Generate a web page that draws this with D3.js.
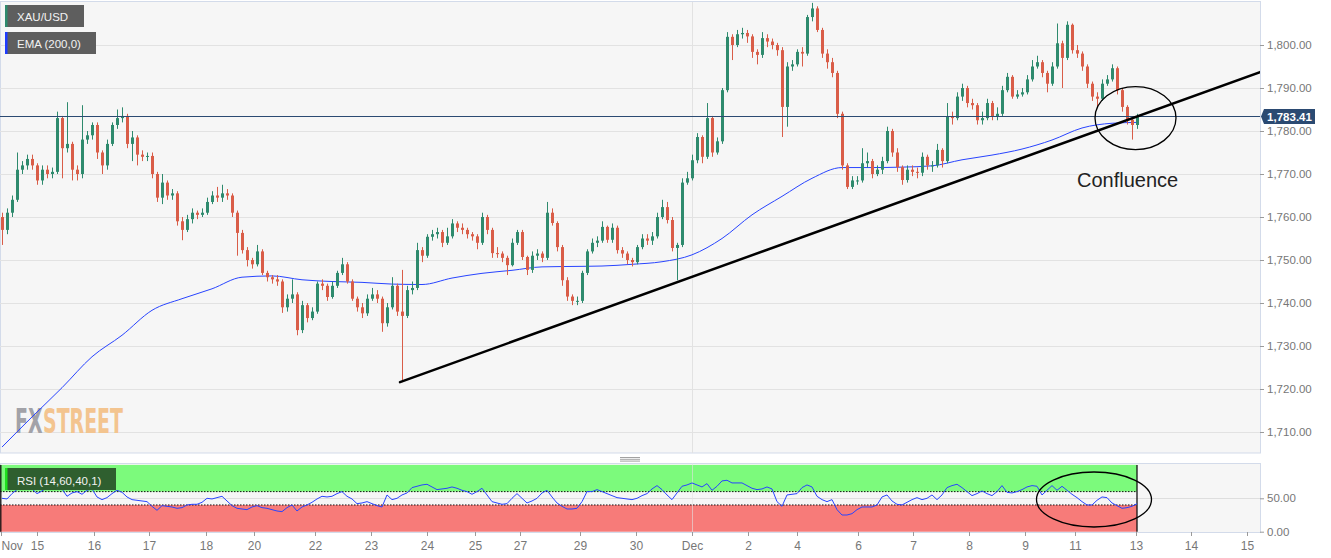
<!DOCTYPE html>
<html><head><meta charset="utf-8">
<script src="https://cdn.jsdelivr.net/npm/d3@7"></script>
<style>
html,body{margin:0;padding:0;background:#fff;}
svg{display:block;font-family:"Liberation Sans",Arial,sans-serif;}
</style></head><body>
<svg id="c" width="1331" height="558"></svg>
<script>
// ---- DATA (2-hour bars) ----
const firstOpen = 1760;
const closes = [
1757,1761,1764,1771,1772,1773.5,1772,1768.5,1771,1770,
1770.5,1783,1776,1777,1771,1770,1778,1779,1781.4,1775,
1772,1777,1781.4,1783,1783.5,1777,1778.5,1774.5,1774,1774.2,
1770,1764.5,1768,1765,1765.5,1759,1757,1759.5,1761,1760.5,
1761,1763.5,1765,1764.5,1765.5,1765,1761,1756.3,1752.3,1750,
1749,1752,1747,1746,1745.5,1745,1739,1741,1742,1733.7,
1739.5,1736.5,1738,1744.5,1744,1741.4,1744,1747,1749,1745,
1741,1739,1737.6,1741,1742,1741,1735.3,1739,1744,1738,
1737,1743,1743.5,1752.3,1751,1755.4,1756,1756.5,1754,1755.5,
1758.5,1757.5,1757,1756,1755.5,1754,1760,1757,1751.6,1751.5,
1750.5,1748.8,1754,1756.5,1750.7,1747.7,1751,1751.5,1750.5,1761,
1758.6,1753,1745.3,1741.5,1740.5,1740.5,1747,1752,1754,1754.5,
1757.7,1754.7,1757.5,1752.3,1751.5,1750,1749.5,1753,1755,1754.5,
1755.5,1760,1762.3,1759.3,1752.8,1753.5,1768,1769,1773.2,1778.6,
1774,1783,1775,1777.6,1789.5,1801.9,1800,1802.5,1802.8,1802,
1798.4,1797.7,1801.6,1800.8,1800,1798.8,1785.6,1795,1795.5,1798.4,
1798,1806.5,1808.5,1803.5,1798,1796,1793.5,1784,1772,1767,
1768.5,1768.5,1772.5,1773,1770,1771,1773,1780,1775,1771.6,
1768.6,1771,1770.5,1770.3,1774,1772,1772,1775.6,1773,1783.3,
1783,1788,1790,1786.5,1786,1782.5,1783,1786.5,1783.4,1784,
1789.5,1792.6,1788,1788.5,1789,1792,1795,1796,1793.5,1791,
1795,1800.4,1797,1804.7,1798.8,1798,1795,1791,1788,1787.5,
1791,1792,1794.6,1789.5,1785.6,1782.6,1781.4,1783.4];
const highs = [
1761,1762,1765,1775,1773,1774.5,1774.5,1772.5,1772,1772,
1771.5,1784.5,1783.5,1786.7,1777.5,1772,1786,1780,1782,1782,
1775.5,1778,1782,1785,1785.5,1784,1780,1779,1775.5,1775,
1775,1770.5,1770,1768.5,1766.5,1766,1760,1760.5,1762,1761.5,
1762,1764.5,1766,1767,1767.5,1766.5,1765.5,1761.5,1757,1753,
1750.5,1753.5,1752.5,1747.5,1746.5,1746.5,1745.5,1742,1745.5,1742.5,
1740.5,1740,1739,1745,1745.5,1744.5,1745,1747.5,1750.5,1749.5,
1745.5,1741.5,1740,1742,1743.5,1743,1741.5,1740,1746,1744.5,
1747.7,1744,1745,1754,1753,1756,1757,1757.5,1757,1757.5,
1759.5,1759,1758.5,1757.5,1756.5,1756,1761,1760.5,1757.5,1753,
1752,1751,1755,1757,1757,1751,1752,1752.5,1752,1763.5,
1762,1759,1753.5,1746,1742,1741.5,1747.5,1752.5,1755,1755.5,
1759,1758,1758.5,1758,1753,1752,1750.5,1753.5,1756,1756,
1756.5,1761,1764,1763.5,1760,1754,1769,1770.5,1774.5,1779.5,
1779,1786.5,1783.5,1778.5,1790,1803,1802.5,1803.5,1804,1803.5,
1802.5,1799,1803,1802.5,1801.5,1800.5,1799.5,1796,1796.5,1799,
1799.5,1807,1809.8,1809,1804,1799,1797,1794,1784.5,1772.5,
1769.5,1769.5,1776,1775,1773.5,1772,1774,1781,1780.5,1776,
1772,1772,1772,1771.5,1775,1774.5,1773,1777,1776,1786.5,
1784.5,1789,1791,1790.5,1787.5,1786.5,1784.5,1787.5,1787,1785.5,
1790.5,1793.5,1793,1789.5,1790,1793,1796.5,1797.5,1796.5,1794,
1796,1805,1801,1805.5,1805,1800,1798.5,1795.5,1791.5,1789,
1792,1793,1795.5,1795,1790,1786,1783,1784];
const lows = [
1753.5,1756,1760,1763.5,1770,1771,1771,1767.5,1767.5,1769,
1769,1770,1769,1775,1768.5,1768.5,1769,1777,1778,1773.5,
1770,1771,1776.5,1780.5,1782,1776,1773,1772,1773,1773,
1769,1763.5,1763,1764,1764,1758,1754.6,1756.5,1758.5,1759.5,
1760,1760.5,1763,1763.5,1763.5,1764,1760,1751,1751.5,1748.5,
1748,1748.5,1746.5,1745,1744.5,1744,1737.7,1738,1740,1732.5,
1733,1735.5,1736,1737.5,1743,1740.5,1741,1743.5,1746.5,1744.5,
1740.5,1738,1736.5,1737,1740.5,1740,1733.3,1734.5,1738.5,1737,
1721.6,1736.5,1742,1743,1749.5,1750.5,1754.5,1755,1753,1753.5,
1755,1756.5,1756,1755,1754.5,1752.5,1753.5,1756,1750.5,1750.5,
1749.5,1746.5,1748.5,1753.5,1750,1746.5,1747,1750,1749.5,1750,
1758,1752,1744,1740.5,1739.5,1739.5,1740,1746.5,1751.5,1753,
1754,1754,1754,1751.5,1750.5,1749,1748.5,1749,1752.5,1753.5,
1753.5,1755,1759.5,1758.5,1752,1745.3,1753,1767.5,1768.5,1772.5,
1772.5,1773.5,1774,1774.5,1777,1789,1796.5,1799.5,1801.5,1800.5,
1797,1795.5,1797,1799.5,1799,1797.5,1778.6,1781,1794,1795,
1795,1797.5,1805.5,1803,1797,1794.5,1792.5,1783,1771,1766.5,
1766.5,1767.5,1768,1771.5,1769,1769.5,1770,1772.5,1774,1770.5,
1767.5,1768,1769.5,1769,1769.5,1771,1770.5,1771.5,1771.5,1772.5,
1781.5,1782.5,1787,1785.5,1785,1781.5,1781.5,1782.5,1782.5,1782.5,
1783.5,1789,1787.5,1787.5,1788,1788.5,1791.5,1794.5,1792.5,1789,
1790.5,1794.5,1790,1796.5,1798,1797,1794,1790,1787,1785.6,
1787,1790.5,1791.5,1788.5,1784.5,1781.5,1778,1780.5];
// EMA(200) read every 6 bars
const emaStep = 6;
const emaValues = [1706.5,1713.5,1720.3,1727.5,1732.5,1738.3,1741,1743.3,1746,1746.3,
1745.4,1745,1744.8,1744.4,1744.3,1745.8,1746.9,1747.6,1748.4,1748.5,
1748.6,1749,1749.6,1751.2,1755,1760.5,1764.8,1769,1771.5,1771.5,
1771.6,1771.9,1773.3,1774.4,1775.8,1777.9,1780.7,1781.8,1782];
// RSI(14) per bar
const rsiValues = [
50,49,57,63,65,66,64,57,61,66,
73,68,64,53,58,60,56,62,64,52,
48,51,57,62,59,52,48,47,46,45,
38,32,39,38,37,35,36,40,41,41,
44,50,49,51,53,46,39,35,34,33,
37,39,36,35,33,31,30,36,40,31,
37,40,44,49,53,52,53,57,60,53,
49,42,43,45,42,39,37,55,48,50,
55,58,66,68,70,71,67,63,64,65,
67,65,62,60,56,60,65,55,45,43,
41,42,50,57,50,43,46,50,58,62,
52,43,38,34,34,35,45,60,60,63,
60,57,54,51,50,49,48,50,54,57,
64,69,63,55,48,58,68,70,73,70,
67,72,62,68,76,77,73,73,73,69,
65,63,64,67,64,45,38,55,56,57,
66,70,67,53,48,45,48,33,25,25,
27,33,37,37,37,40,52,55,46,41,
40,44,48,51,48,50,55,48,55,66,
69,71,66,60,54,57,61,57,54,60,
69,59,58,60,63,67,69,68,55,62,
69,62,68,62,56,51,45,40,40,47,
52,51,43,39,35,36,38,42];
const priceTicks = [1710,1720,1730,1740,1750,1760,1770,1780,1790,1800];
const rsiTicks = [0,50];
const dateLabels = ["Nov","15","16","17","18","20","22","23","24","25","27","29","30","Dec","2","4","6","7","8","9","11","13","14","15"];
const dateTickBars = [-0.2,7,18.4,29.4,40.8,50.4,62.6,73.8,85,94.6,103.6,115.6,126.8,138,149.2,159,171.2,182.2,193.4,204.6,214.6,226.8,237.8,249];
const lastPrice = 1783.41;
const rsiUpper = 60, rsiLower = 40;
const trendStart = [79.6,1721.6], trendEnd = [251.6,1793.7];
const circlePrice = [226.7,1783];
const circleRsi = [218.4,48.2];

// ---- LAYOUT ----
const svg = d3.select("#c");
const L = 0, R = 1260;
const mainTop = 2, mainBot = 453, rsiTop = 463, rsiBot = 532;
const x = d3.scaleLinear().domain([0,227]).range([2,1137]);
const y = d3.scaleLinear().domain([1710,1800]).range([432,45]);
const yr = d3.scaleLinear().domain([0,100]).range([531.7,464.9]);
const GREEN = "#2e8a6d", RED = "#d95d48", BLUE = "#2844ff";

const defs = svg.append("defs");
defs.append("clipPath").attr("id","mainClip").append("rect").attr("x",L).attr("y",mainTop).attr("width",R-L).attr("height",mainBot-mainTop);
defs.append("clipPath").attr("id","rsiClip").append("rect").attr("x",L).attr("y",rsiTop).attr("width",R-L).attr("height",rsiBot-rsiTop);

// panels
svg.append("rect").attr("x",L+0.5).attr("y",mainTop-0.5).attr("width",R-L).attr("height",mainBot-mainTop+0.5)
  .attr("fill","#f6f6f6").attr("stroke","#d3dbea");
svg.append("rect").attr("x",L+0.5).attr("y",rsiTop+0.5).attr("width",R-L).attr("height",rsiBot-rsiTop)
  .attr("fill","#f6f6f6").attr("stroke","#d3dbea");

// grid
const gMain = svg.append("g").attr("clip-path","url(#mainClip)");
gMain.selectAll("line.grid").data(priceTicks).join("line")
  .attr("x1",L).attr("x2",R).attr("y1",d=>Math.round(y(d))+0.5).attr("y2",d=>Math.round(y(d))+0.5)
  .attr("stroke","#e2e2e2");
const decBar = dateTickBars[dateLabels.indexOf("Dec")];
gMain.append("line").attr("x1",Math.round(x(decBar))+0.5).attr("x2",Math.round(x(decBar))+0.5)
  .attr("y1",mainTop).attr("y2",mainBot).attr("stroke","#e2e2e2");

// watermark: two texts placed side by side, then horizontally condensed as a group
const wmG = gMain.append("g");
const wmInner = wmG.append("g");
const fx = wmInner.append("text").attr("x",0).attr("y",0).attr("font-family","DejaVu Sans").attr("font-weight","bold")
  .attr("font-size",34).attr("fill","#a2a2a8").text("FX");
const fxW = fx.node().getComputedTextLength();
const st = wmInner.append("text").attr("x",fxW+1).attr("y",0).attr("font-family","DejaVu Sans").attr("font-weight","bold")
  .attr("font-size",34).attr("fill","#f3c48f").text("STREET");
const totW = fxW + 1 + st.node().getComputedTextLength();
wmG.attr("transform",`translate(15,433) scale(${108/totW},1)`);

// EMA
const emaPts = emaValues.map((v,k)=>[Math.min(k*emaStep,227),v]);
gMain.append("path").datum(emaPts)
  .attr("d",d3.line().x(d=>x(d[0])).y(d=>y(d[1])).curve(d3.curveMonotoneX))
  .attr("fill","none").attr("stroke",BLUE).attr("stroke-width",1);

// candles
const bars = closes.map((c,i)=>{
  const o = i===0?firstOpen:closes[i-1];
  return {i,o,c,h:Math.max(highs[i],o,c),l:Math.min(lows[i],o,c)};
});
const cg = gMain.append("g");
cg.selectAll("line.w").data(bars).join("line")
  .attr("x1",d=>Math.round(x(d.i))+0.5).attr("x2",d=>Math.round(x(d.i))+0.5)
  .attr("y1",d=>y(d.h)).attr("y2",d=>y(d.l))
  .attr("stroke",d=>d.c>=d.o?GREEN:RED).attr("stroke-width",1);
cg.selectAll("rect.b").data(bars).join("rect")
  .attr("x",d=>Math.round(x(d.i))-1).attr("width",3)
  .attr("y",d=>y(Math.max(d.o,d.c)))
  .attr("height",d=>Math.max(1,Math.abs(y(d.o)-y(d.c))))
  .attr("fill",d=>d.c>=d.o?GREEN:RED);

// last price line
gMain.append("line").attr("x1",L).attr("x2",R).attr("y1",Math.round(y(lastPrice))+0.5).attr("y2",Math.round(y(lastPrice))+0.5)
  .attr("stroke","#2b4a72").attr("stroke-width",1);

// trendline
gMain.append("line").attr("x1",x(trendStart[0])).attr("y1",y(trendStart[1]))
  .attr("x2",x(trendEnd[0])).attr("y2",y(trendEnd[1]))
  .attr("stroke","#000").attr("stroke-width",2.5).attr("stroke-linecap","round");

// ellipse + label
gMain.append("ellipse").attr("cx",x(circlePrice[0])).attr("cy",y(circlePrice[1])).attr("rx",40.5).attr("ry",31.5)
  .attr("fill","none").attr("stroke","#000").attr("stroke-width",1.3);
svg.append("text").attr("x",1077).attr("y",187).attr("font-size",20).attr("fill","#222").text("Confluence");

// right price axis
const ax = svg.append("g").attr("transform",`translate(${R},0)`)
  .call(d3.axisRight(y).tickValues(priceTicks).tickFormat(d3.format(",.2f")).tickSize(4).tickPadding(3));
ax.select(".domain").remove();
ax.selectAll("line").attr("stroke","#9a9a9a");
ax.selectAll("text").attr("fill","#777").attr("font-size",11.5).attr("font-family","Liberation Sans, Arial, sans-serif");

// last price tag
const ly = Math.round(y(lastPrice))+0.5;
svg.append("path").attr("d",`M${R+1},${ly} L${R+4},${ly-7.5} L${R+55},${ly-7.5} L${R+55},${ly+7.5} L${R+4},${ly+7.5} Z`)
  .attr("fill","#2b4a72");
svg.append("text").attr("x",R+29.5).attr("y",ly+4).attr("text-anchor","middle").attr("fill","#fff")
  .attr("font-size",11.5).attr("font-weight","bold").text(d3.format(",.2f")(lastPrice));

// ---- RSI panel ----
const gR = svg.append("g").attr("clip-path","url(#rsiClip)");
gR.append("rect").attr("x",0).attr("width",x(227)).attr("y",yr(100)).attr("height",yr(rsiUpper)-yr(100)).attr("fill","#7cfa7c");
gR.append("rect").attr("x",0).attr("width",x(227)).attr("y",yr(rsiLower)).attr("height",yr(0)-yr(rsiLower)).attr("fill","#f77b79");
gR.append("line").attr("x1",L).attr("x2",R).attr("y1",Math.round(yr(50))+0.5).attr("y2",Math.round(yr(50))+0.5).attr("stroke","#dedede");
gR.append("line").attr("x1",Math.round(x(decBar))+0.5).attr("x2",Math.round(x(decBar))+0.5).attr("y1",rsiTop).attr("y2",rsiBot).attr("stroke","#e2e2e2").attr("stroke-opacity",0.6);
[rsiUpper,rsiLower].forEach(v=>{
  gR.append("line").attr("x1",0).attr("x2",x(227)).attr("y1",yr(v)).attr("y2",yr(v))
    .attr("stroke","#111").attr("stroke-dasharray","1.5,1.5").attr("stroke-width",1);
});
[0.8, x(227)].forEach(xx=>{
  gR.append("line").attr("x1",xx).attr("x2",xx).attr("y1",yr(100)).attr("y2",yr(0)).attr("stroke","#111").attr("stroke-width",1.3);
});
gR.append("path").datum(rsiValues)
  .attr("d",d3.line().x((d,i)=>x(i)).y(d=>yr(d)))
  .attr("fill","none").attr("stroke",BLUE).attr("stroke-width",1);
svg.append("ellipse").attr("cx",x(circleRsi[0])).attr("cy",yr(circleRsi[1])).attr("rx",57.5).attr("ry",27.5)
  .attr("fill","none").attr("stroke","#000").attr("stroke-width",1.3);

const axR = svg.append("g").attr("transform",`translate(${R},0)`)
  .call(d3.axisRight(yr).tickValues(rsiTicks).tickFormat(d3.format(",.2f")).tickSize(4).tickPadding(3));
axR.select(".domain").remove();
axR.selectAll("line").attr("stroke","#9a9a9a");
axR.selectAll("text").attr("fill","#777").attr("font-size",11.5).attr("font-family","Liberation Sans, Arial, sans-serif");

// bottom date axis
const axB = svg.append("g").attr("transform",`translate(0,${rsiBot})`)
  .call(d3.axisBottom(x).tickValues(dateTickBars).tickFormat((d,i)=>dateLabels[i]).tickSize(4).tickPadding(5));
axB.select(".domain").remove();
axB.selectAll("line").attr("stroke","#9a9a9a");
axB.selectAll("text").attr("fill","#777").attr("font-size",12).attr("font-family","Liberation Sans, Arial, sans-serif")
  .attr("text-anchor",(d,i)=>i===0?"start":"middle");

// drag handle
[0,1.8,3.6].forEach(dy=>{
  svg.append("line").attr("x1",620).attr("x2",640).attr("y1",457.5+dy).attr("y2",457.5+dy).attr("stroke","#8a8a8a").attr("stroke-width",0.8);
});

// legend boxes
function legend(x0,y0,w,h,fill,bar,label,base){
  svg.append("rect").attr("x",x0).attr("y",y0).attr("width",w).attr("height",h).attr("fill",fill);
  svg.append("rect").attr("x",x0).attr("y",y0).attr("width",2.5).attr("height",h).attr("fill",bar);
  svg.append("text").attr("x",x0+12).attr("y",base).attr("fill","#f2f2f2").attr("font-size",11.5).text(label);
}
legend(5,5,79,22,"#5e5e5e","#2e8a6d","XAU/USD",20.5);
legend(5,32,91,22,"#5e5e5e","#1f3cff","EMA (200,0)",47.5);
legend(5,468,111,22,"#2f5f2f","#1fe01f","RSI (14,60,40,1)",484.5);
</script>
</body></html>
